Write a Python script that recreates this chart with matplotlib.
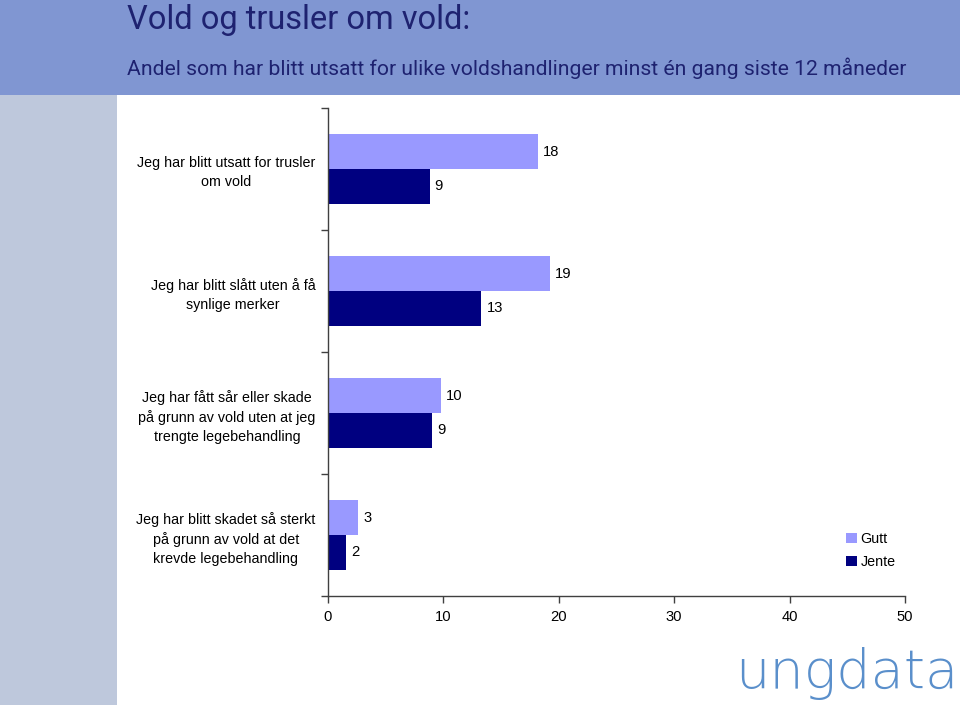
import matplotlib
matplotlib.use("Agg")
import matplotlib.pyplot as plt
from matplotlib.patches import Rectangle
import numpy as np

categories = [
    "Jeg har blitt utsatt for trusler\nom vold",
    "Jeg har blitt slått uten å få\nsynlige merker",
    "Jeg har fått sår eller skade\npå grunn av vold uten at jeg\ntrengte legebehandling",
    "Jeg har blitt skadet så sterkt\npå grunn av vold at det\nkrevde legebehandling",
]
gutt = [18.2, 19.2, 9.8, 2.6]
jente = [8.8, 13.3, 9.0, 1.6]
gutt_labels = ["18", "19", "10", "3"]
jente_labels = ["9", "13", "9", "2"]
xticks = [0, 10, 20, 30, 40, 50]
title = "Vold og trusler om vold:"
subtitle = "Andel som har blitt utsatt for ulike voldshandlinger minst én gang siste 12 måneder"

W, H = 960, 705
fig = plt.figure(figsize=(W / 100, H / 100), dpi=100)
fig.patch.set_facecolor("white")

# header band and left strip
fig.patches.append(Rectangle((0, 1 - 95 / H), 1, 95 / H, transform=fig.transFigure,
                             facecolor="#8096D2", edgecolor="none", zorder=0))
fig.patches.append(Rectangle((0, 0), 117 / W, 1 - 95 / H, transform=fig.transFigure,
                             facecolor="#BEC8DC", edgecolor="none", zorder=0))

head_font = ["Roboto", "DejaVu Sans"]
fig.text(127 / W, 1 - 29 / H, title, fontsize=23.5, color="#1E2270",
         family=head_font, ha="left", va="baseline")
fig.text(127 / W, 1 - 75 / H, subtitle, fontsize=15.2, color="#1E2270",
         family=head_font, ha="left", va="baseline")

lab_font = "Liberation Sans"
fs = 10.3
ax = fig.add_axes([328 / W, 1 - 596 / H, (905 - 328) / W, (596 - 108) / H])
ax.set_facecolor("none")
n = len(categories)
y = np.arange(n)
h = 0.285
gutt_col = "#9999FF"
jente_col = "#000080"
ax.barh(y - h / 2, gutt, height=h, color=gutt_col, label="Gutt")
ax.barh(y + h / 2, jente, height=h, color=jente_col, label="Jente")
for i in range(n):
    ax.text(gutt[i] + 0.45, y[i] - h / 2, gutt_labels[i], va="center", ha="left",
            fontsize=fs + 0.3, family=lab_font)
    ax.text(jente[i] + 0.45, y[i] + h / 2, jente_labels[i], va="center", ha="left",
            fontsize=fs + 0.3, family=lab_font)

ax.set_xlim(0, 50)
ax.set_ylim(n - 0.5, -0.5)
ax.set_xticks(xticks)
ax.set_xticklabels([str(t) for t in xticks], fontsize=fs + 0.3, family=lab_font)
ax.set_yticks(np.arange(-0.5, n, 1), minor=False)
ax.set_yticklabels([])
ax.set_yticks(y, minor=True)
ax.set_yticklabels(categories, minor=True, fontsize=fs, family=lab_font,
                   multialignment="center", linespacing=1.45)
ax.tick_params(axis="y", which="minor", length=0, pad=9)
ax.tick_params(axis="y", which="major", length=5, direction="out", width=1, color="#404040")
ax.tick_params(axis="x", length=5, direction="out", width=1, color="#404040", pad=5)
for s in ["top", "right"]:
    ax.spines[s].set_visible(False)
for s in ["left", "bottom"]:
    ax.spines[s].set_color("#404040")
    ax.spines[s].set_linewidth(1)

leg = fig.legend(loc="upper left", bbox_to_anchor=(839 / W, 1 - 525 / H), frameon=False,
                 prop={"family": lab_font, "size": fs}, handlelength=0.75,
                 handleheight=0.75, handletextpad=0.25, labelspacing=0.6, borderpad=0)

fig.text(958 / W, 1 - 688 / H, "ungdata", fontsize=39, color="#5A8FCB",
         family="DejaVu Sans", weight="light", ha="right", va="baseline")

fig.savefig("out.png", dpi=100)
